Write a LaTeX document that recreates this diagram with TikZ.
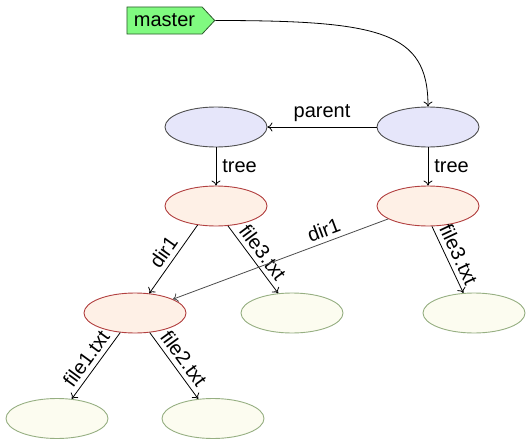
\documentclass[tikz,border=0pt]{standalone}
\usepackage{fontspec}
\setmainfont{Liberation Sans}
\usetikzlibrary{shapes.geometric,shapes.symbols,arrows.meta}
\definecolor{commitfill}{RGB}{230,230,250}
\definecolor{commitdraw}{RGB}{80,80,80}
\definecolor{treefill}{RGB}{254,240,230}
\definecolor{treedraw}{RGB}{178,64,64}
\definecolor{blobfill}{RGB}{252,252,240}
\definecolor{blobdraw}{RGB}{150,175,130}
\definecolor{tagfill}{RGB}{128,250,128}
\definecolor{tagdraw}{RGB}{45,90,45}
\begin{document}
\begin{tikzpicture}[x=1pt,y=-1pt,
  every node/.style={font=\fontsize{20}{24}\selectfont},
  obj/.style={ellipse, minimum width=102pt, minimum height=40pt, inner sep=0pt, line width=0.9pt},
  commit/.style={obj, draw=commitdraw, fill=commitfill},
  treeobj/.style={obj, draw=treedraw, fill=treefill},
  blob/.style={obj, draw=blobdraw, fill=blobfill},
  tag/.style={signal, signal to=east, signal from=nowhere, signal pointer angle=94,
    draw=tagdraw, fill=tagfill, inner xsep=7pt, inner ysep=7pt, line width=0.8pt},
  conn/.style={-{To[length=5pt,width=9pt]}, line width=0.8pt},
  lbl/.style={midway, sloped, above, inner sep=4.5pt}
]
\useasboundingbox (0,0) rectangle (531,439);

\node[tag] (m) at (164.5,20.5) {master};

\node[commit] (c2) at (428,127) {};
\node[commit] (c1) at (216,127) {};
\node[treeobj] (t1) at (216,206) {};
\node[treeobj] (t2) at (428,206) {};
\node[treeobj] (d1) at (135,313) {};
\node[blob] (f3a) at (292,313) {};
\node[blob] (f3b) at (474,313) {};
\node[blob] (f1) at (57,418.5) {};
\node[blob] (f2) at (213,418.5) {};

\draw[conn] (m.east) .. controls +(165,0) and +(0,-75) .. (c2.north);
\draw[conn] (c2) -- (c1) node[midway, above, inner sep=5pt] {parent};
\draw[conn] (c1) -- (t1) node[midway, right, inner sep=6pt] {tree};
\draw[conn] (c2) -- (t2) node[midway, right, inner sep=6pt] {tree};
\draw[conn] (t1.226) -- (d1.54) node[lbl] {dir1};
\draw[conn] (t1.-59) -- (f3a.125) node[lbl] {file3.txt};
\draw[conn, draw=black!70] (t2.198) -- (d1.20) node[lbl, pos=0.28, text=black] {dir1};
\draw[conn] (t2.-79) -- (f3b.118) node[lbl] {file3.txt};
\draw[conn] (d1.233) -- (f1.53) node[lbl] {file1.txt};
\draw[conn] (d1.-53) -- (f2.127) node[lbl] {file2.txt};
\end{tikzpicture}
\end{document}
